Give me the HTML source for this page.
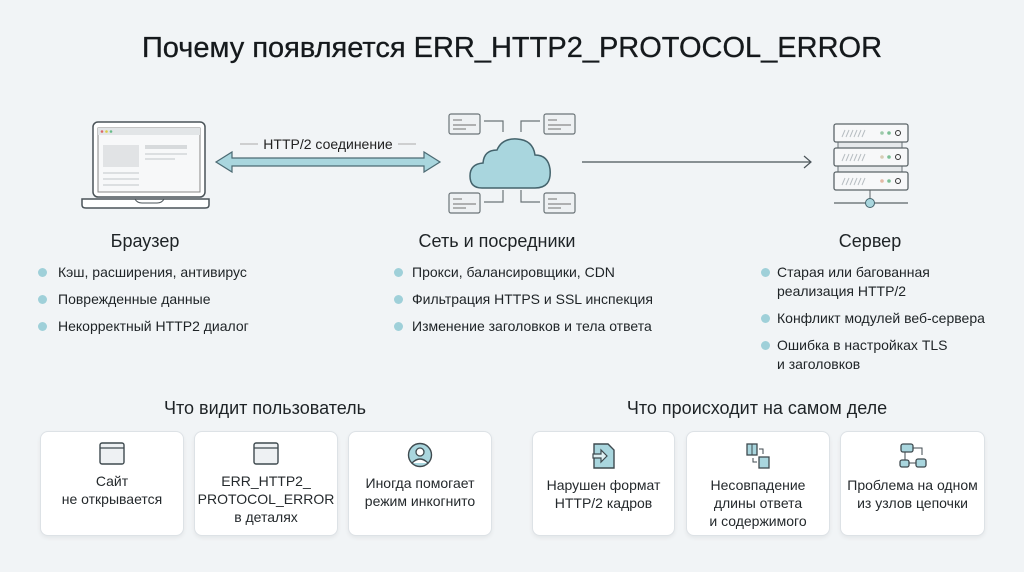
<!DOCTYPE html>
<html><head><meta charset="utf-8"><style>
*{margin:0;padding:0;box-sizing:border-box}
body{width:1024px;height:572px;background:#f1f4f6;font-family:"Liberation Sans","Noto Sans CJK SC",sans-serif;color:#1e2326;position:relative;overflow:hidden}
.a{position:absolute;white-space:nowrap}
.t{font-size:29px;left:0;width:1024px;text-align:center;top:32px;color:#15191c;-webkit-text-stroke:0.3px #15191c}
.h{font-size:18px;text-align:center}
.b{font-size:14px;line-height:19px}
.dot{position:absolute;width:9px;height:9px;border-radius:50%;background:#9fd0d9}
.card{position:absolute;background:#fff;border:1px solid #dde2e6;border-radius:8px;box-shadow:0 2px 4px rgba(0,0,0,.06);text-align:center;font-size:14px;line-height:18px;color:#24292c}
.card svg{display:block;margin:10px auto 6px}
</style></head><body>
<div class="a t">Почему появляется ERR_HTTP2_PROTOCOL_ERROR</div>

<svg class="a" style="left:0;top:0" width="1024" height="230">
<rect x="93" y="122" width="112" height="75" rx="5" fill="#fff" stroke="#4a5358" stroke-width="1.5"/>
<rect x="98" y="128" width="102" height="64" fill="#f7f8f9" stroke="#888" stroke-width="1"/>
<rect x="98" y="128" width="102" height="7" fill="#e2e5e7"/>
<circle cx="102" cy="131.5" r="1.3" fill="#d66"/><circle cx="106.5" cy="131.5" r="1.3" fill="#dc4"/><circle cx="111" cy="131.5" r="1.3" fill="#6b8"/>
<rect x="103" y="145" width="36" height="22" fill="#e1e3e5"/>
<rect x="145" y="145" width="42" height="4" fill="#d7dadc"/>
<rect x="145" y="153" width="42" height="2" fill="#dcdfe1"/><rect x="145" y="158" width="30" height="2" fill="#dcdfe1"/>
<rect x="103" y="172" width="36" height="2" fill="#dcdfe1"/><rect x="103" y="178" width="36" height="2" fill="#dcdfe1"/><rect x="103" y="184" width="36" height="2" fill="#dcdfe1"/>
<path d="M82 199 H209 V205 Q209 208 205 208 H86 Q82 208 82 205Z" fill="#fff" stroke="#4a5358" stroke-width="1.5"/>
<path d="M135 199 Q137 203 142 203 H157 Q162 203 164 199" fill="none" stroke="#4a5358" stroke-width="1"/>
<path d="M216 162 L232 152 V158 H424 V152 L440 162 L424 172 V166 H232 V172Z" fill="#a9d6de" stroke="#4c6a73" stroke-width="1.2"/>
<line x1="240" y1="144" x2="258" y2="144" stroke="#aaa"/><line x1="398" y1="144" x2="416" y2="144" stroke="#aaa"/>
<text x="328" y="149" font-size="14" text-anchor="middle" fill="#222" font-family="Liberation Sans">HTTP/2 соединение</text>
<path d="M482 188 Q470 188 470 176 Q470 164 483 163 Q484 150 497 150 Q502 138 517 139 Q533 140 535 155 Q548 155 550 169 Q552 188 535 188Z" fill="#a9d6de" stroke="#44636c" stroke-width="1.5"/>
<g fill="#eef1f3" stroke="#6b7478" stroke-width="1.2">
<rect x="449" y="114" width="31" height="20" rx="2"/><rect x="544" y="114" width="31" height="20" rx="2"/>
<rect x="449" y="193" width="31" height="20" rx="2"/><rect x="544" y="193" width="31" height="20" rx="2"/>
</g>
<g stroke="#888" stroke-width="1.2">
<line x1="453" y1="120" x2="462" y2="120"/><line x1="453" y1="125" x2="476" y2="125"/><line x1="453" y1="129" x2="466" y2="129"/>
<line x1="548" y1="120" x2="557" y2="120"/><line x1="548" y1="125" x2="571" y2="125"/><line x1="548" y1="129" x2="561" y2="129"/>
<line x1="453" y1="199" x2="462" y2="199"/><line x1="453" y1="204" x2="476" y2="204"/><line x1="453" y1="208" x2="466" y2="208"/>
<line x1="548" y1="199" x2="557" y2="199"/><line x1="548" y1="204" x2="571" y2="204"/><line x1="548" y1="208" x2="561" y2="208"/>
</g>
<g fill="none" stroke="#6b7478" stroke-width="1.2">
<path d="M484 121 H503 V132"/><path d="M540 121 H521 V132"/><path d="M484 202 H503 V190"/><path d="M540 202 H521 V190"/>
</g>
<line x1="582" y1="162" x2="810" y2="162" stroke="#4a5358" stroke-width="1.2"/>
<path d="M804 156 L811 162 L804 168" fill="none" stroke="#4a5358" stroke-width="1.2"/>
<rect x="838" y="137" width="64" height="40" fill="#e6e9eb" stroke="#6b7478"/>
<g fill="#f7f8f9" stroke="#5b6468" stroke-width="1.3">
<rect x="834" y="124" width="74" height="18" rx="2"/><rect x="834" y="148" width="74" height="18" rx="2"/><rect x="834" y="172" width="74" height="18" rx="2"/>
</g>
<g stroke="#b8bec2" stroke-width="1"><path d="M842 137 l3 -7 M846 137 l3 -7 M850 137 l3 -7 M854 137 l3 -7 M858 137 l3 -7 M862 137 l3 -7"/><path d="M842 161 l3 -7 M846 161 l3 -7 M850 161 l3 -7 M854 161 l3 -7 M858 161 l3 -7 M862 161 l3 -7"/><path d="M842 185 l3 -7 M846 185 l3 -7 M850 185 l3 -7 M854 185 l3 -7 M858 185 l3 -7 M862 185 l3 -7"/></g>
<circle cx="882" cy="133" r="1.8" fill="#9cc9a9"/><circle cx="889" cy="133" r="1.8" fill="#7cbf95"/><circle cx="898" cy="133" r="2.5" fill="none" stroke="#333"/>
<circle cx="882" cy="157" r="1.8" fill="#d7cdb5"/><circle cx="889" cy="157" r="1.8" fill="#7cbf95"/><circle cx="898" cy="157" r="2.5" fill="none" stroke="#333"/>
<circle cx="882" cy="181" r="1.8" fill="#e3b9a5"/><circle cx="889" cy="181" r="1.8" fill="#7cbf95"/><circle cx="898" cy="181" r="2.5" fill="none" stroke="#333"/>
<line x1="870" y1="190" x2="870" y2="200" stroke="#5b6468"/>
<line x1="834" y1="203" x2="908" y2="203" stroke="#5b6468" stroke-width="1.2"/>
<circle cx="870" cy="203" r="4.5" fill="#a9d6de" stroke="#44636c"/>
</svg>

<div class="a h" style="left:45px;width:200px;top:231px">Браузер</div>
<div class="a h" style="left:397px;width:200px;top:231px">Сеть и посредники</div>
<div class="a h" style="left:770px;width:200px;top:231px">Сервер</div>

<span class="dot" style="left:38px;top:268px"></span><div class="a b" style="left:58px;top:263px">Кэш, расширения, антивирус</div>
<span class="dot" style="left:38px;top:295px"></span><div class="a b" style="left:58px;top:290px">Поврежденные данные</div>
<span class="dot" style="left:38px;top:322px"></span><div class="a b" style="left:58px;top:317px">Некорректный HTTP2 диалог</div>

<span class="dot" style="left:394px;top:268px"></span><div class="a b" style="left:412px;top:263px">Прокси, балансировщики, CDN</div>
<span class="dot" style="left:394px;top:295px"></span><div class="a b" style="left:412px;top:290px">Фильтрация HTTPS и SSL инспекция</div>
<span class="dot" style="left:394px;top:322px"></span><div class="a b" style="left:412px;top:317px">Изменение заголовков и тела ответа</div>

<span class="dot" style="left:761px;top:268px"></span><div class="a b" style="left:777px;top:263px">Старая или багованная<br>реализация HTTP/2</div>
<span class="dot" style="left:761px;top:314px"></span><div class="a b" style="left:777px;top:309px">Конфликт модулей веб-сервера</div>
<span class="dot" style="left:761px;top:341px"></span><div class="a b" style="left:777px;top:336px">Ошибка в настройках TLS<br>и заголовков</div>

<div class="a h" style="left:115px;width:300px;top:398px">Что видит пользователь</div>
<div class="a h" style="left:607px;width:300px;top:398px">Что происходит на самом деле</div>

<div class="card" style="left:40px;top:431px;width:144px;height:105px">
<svg width="26" height="24"><rect x="1" y="1" width="24" height="21" rx="2" fill="#eef1f3" stroke="#3f4a4f" stroke-width="1.4"/><line x1="1" y1="6" x2="25" y2="6" stroke="#3f4a4f" stroke-width="1.2"/></svg>Сайт<br>не открывается</div>
<div class="card" style="left:194px;top:431px;width:144px;height:105px">
<svg width="26" height="24"><rect x="1" y="1" width="24" height="21" rx="2" fill="#eef1f3" stroke="#3f4a4f" stroke-width="1.4"/><line x1="1" y1="6" x2="25" y2="6" stroke="#3f4a4f" stroke-width="1.2"/></svg>ERR_HTTP2_<br>PROTOCOL_ERROR<br>в деталях</div>
<div class="card" style="left:348px;top:431px;width:144px;height:105px">
<svg width="26" height="26"><circle cx="13" cy="13" r="11.5" fill="#a9d6de" stroke="#3f4a4f" stroke-width="1.4"/><circle cx="13" cy="10" r="4" fill="#fff" stroke="#3f4a4f" stroke-width="1.3"/><path d="M5 21 Q13 13 21 21" fill="#fff" stroke="#3f4a4f" stroke-width="1.3"/></svg>Иногда помогает<br>режим инкогнито</div>

<div class="card" style="left:532px;top:431px;width:143px;height:105px">
<svg width="26" height="28"><path d="M3 2 H17 L23 8 V26 H3Z" fill="#a9d6de" stroke="#3f4a4f" stroke-width="1.4"/><path d="M2 12 H10 V8 L16 14 L10 20 V16 H2Z" fill="#dff0f3" stroke="#3f4a4f" stroke-width="1.2"/></svg>Нарушен формат<br>HTTP/2 кадров</div>
<div class="card" style="left:686px;top:431px;width:144px;height:105px">
<svg width="26" height="28"><rect x="2" y="2" width="10" height="11" fill="#a9d6de" stroke="#3f4a4f" stroke-width="1.3"/><line x1="7" y1="2" x2="7" y2="13" stroke="#3f4a4f"/><rect x="14" y="15" width="10" height="11" fill="#a9d6de" stroke="#3f4a4f" stroke-width="1.3"/><path d="M14 7 H18 V12" fill="none" stroke="#3f4a4f"/><path d="M12 20 H8 V16" fill="none" stroke="#3f4a4f"/></svg>Несовпадение<br>длины ответа<br>и содержимого</div>
<div class="card" style="left:840px;top:431px;width:145px;height:105px">
<svg width="30" height="28"><rect x="3" y="2" width="12" height="8" rx="2" fill="#a9d6de" stroke="#3f4a4f" stroke-width="1.3"/><path d="M15 6 H24 V13" fill="none" stroke="#3f4a4f"/><line x1="7" y1="10" x2="7" y2="18" stroke="#3f4a4f"/><rect x="2" y="18" width="9" height="7" rx="2" fill="#a9d6de" stroke="#3f4a4f" stroke-width="1.3"/><line x1="11" y1="21" x2="18" y2="21" stroke="#3f4a4f"/><rect x="18" y="17" width="10" height="8" rx="2" fill="#a9d6de" stroke="#3f4a4f" stroke-width="1.3"/></svg>Проблема на одном<br>из узлов цепочки</div>
</body></html>
